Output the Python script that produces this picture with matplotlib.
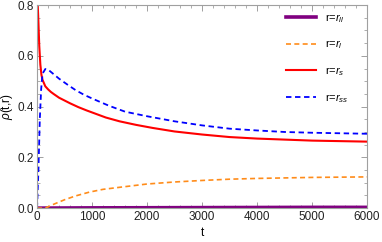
import matplotlib
matplotlib.use("Agg")
import matplotlib.pyplot as plt
from matplotlib.ticker import MultipleLocator
import numpy as np

plt.rcParams['font.family'] = ['Liberation Sans', 'DejaVu Sans']
plt.rcParams['mathtext.fontset'] = 'custom'
plt.rcParams['mathtext.rm'] = 'Liberation Sans'
plt.rcParams['mathtext.it'] = 'Liberation Sans:italic'

# values
t_ll = [0, 1000, 2000, 3000, 4000, 5000, 6000]
rho_ll = [0.0, 0.001, 0.0015, 0.002, 0.0025, 0.003, 0.003]

t_l = [0, 150, 300, 500, 700, 950, 1200, 1500, 2000, 2500, 3000, 3500, 4000, 4500, 5000, 5500, 6000]
rho_l = [0.0, 0.0, 0.015, 0.033, 0.048, 0.063, 0.074, 0.082, 0.095, 0.103, 0.109, 0.114, 0.117, 0.119, 0.121, 0.122, 0.123]

t_s = [0, 20, 40, 60, 80, 100, 150, 200, 250, 300, 400, 500, 600, 750, 900, 1100, 1250, 1500,
       1800, 2100, 2500, 3000, 3500, 4000, 4500, 5000, 5500, 6000]
rho_s = [0.86, 0.76, 0.64, 0.565, 0.525, 0.505, 0.48, 0.468, 0.458, 0.45, 0.435, 0.424, 0.413, 0.398,
         0.385, 0.369, 0.357, 0.342, 0.328, 0.316, 0.302, 0.29, 0.28, 0.274, 0.27, 0.266, 0.264, 0.262]

t_ss = [0, 25, 50, 75, 100, 150, 200, 300, 400, 550, 700, 850, 1000, 1300, 1600, 2000, 2500,
        3000, 3500, 4000, 4500, 5000, 5500, 6000]
rho_ss = [0.0, 0.15, 0.35, 0.47, 0.53, 0.548, 0.546, 0.528, 0.51, 0.487, 0.465, 0.447, 0.432, 0.404,
          0.38, 0.362, 0.342, 0.326, 0.313, 0.306, 0.3, 0.297, 0.295, 0.293]

fig = plt.figure(figsize=(3.82, 2.42), dpi=100)
ax = fig.add_axes([0.097, 0.14, 0.864, 0.839])

ax.plot(t_ll, rho_ll, color='#800080', lw=2.6, label=r'r=$r_{ll}$')
ax.plot(t_l, rho_l, color='#ff8c1a', lw=1.2, ls=(0, (3, 2)), label=r'r=$r_l$')
ax.plot(t_s, rho_s, color='#ff0000', lw=1.5, label=r'r=$r_s$')
ax.plot(t_ss, rho_ss, color='#0000ff', lw=1.3, ls=(0, (3, 2)), label=r'r=$r_{ss}$')

ax.set_xlim(0, 6000)
ax.set_ylim(0, 0.8)
ax.xaxis.set_major_locator(MultipleLocator(1000))
ax.xaxis.set_minor_locator(MultipleLocator(200))
ax.yaxis.set_major_locator(MultipleLocator(0.2))
ax.yaxis.set_minor_locator(MultipleLocator(0.05))
ax.set_yticks([0, 0.2, 0.4, 0.6, 0.8], ['0.0', '0.2', '0.4', '0.6', '0.8'])

for s in ax.spines.values():
    s.set_color('#a0a0a0')
    s.set_linewidth(0.8)
ax.tick_params(which='both', direction='in', top=True, right=True, color='#a0a0a0',
               labelsize=8.5, labelcolor='#222222', pad=2)
ax.tick_params(which='major', length=4, width=0.7)
ax.tick_params(which='minor', length=2, width=0.6)

ax.set_xlabel('t', fontsize=8.5, labelpad=3)
ax.set_ylabel(r'$\rho$(t,r)', fontsize=8.5, labelpad=2)

ax.legend(loc='upper right', frameon=False, fontsize=8, handlelength=2.7,
          labelspacing=1.25, handletextpad=0.8, borderaxespad=0.2,
          bbox_to_anchor=(0.965, 1.0))

plt.savefig('out.png', dpi=100)
